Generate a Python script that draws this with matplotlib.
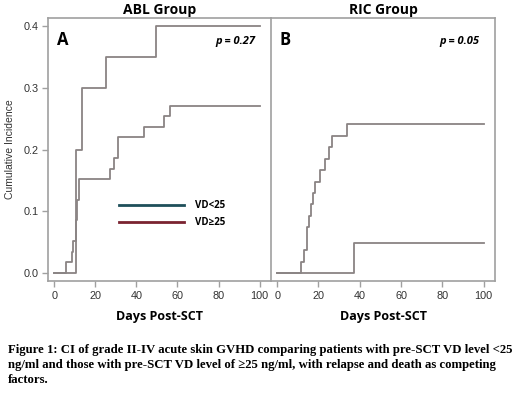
import matplotlib
matplotlib.use("Agg")
import matplotlib.pyplot as plt
from matplotlib.lines import Line2D

# ---- data ----
a_low_days = [0, 6.0, 8.6, 9.4, 10.5, 11.0, 11.3, 12.3, 27.2, 29.1, 31.2, 43.5, 53.4, 56.3, 100]
a_low_ci = [0, 0.017, 0.034, 0.051, 0.085, 0.102, 0.119, 0.153, 0.169, 0.186, 0.220, 0.237, 0.254, 0.271, 0.271]
a_high_days = [0, 10.5, 13.5, 25.0, 49.4, 100]
a_high_ci = [0, 0.20, 0.30, 0.35, 0.40, 0.40]

b_low_days = [0, 11.3, 13.2, 14.6, 15.6, 16.4, 17.5, 18.4, 20.8, 23.2, 25.1, 26.7, 33.7, 100]
b_low_ci = [0, 0.0185, 0.037, 0.074, 0.093, 0.111, 0.130, 0.148, 0.167, 0.185, 0.204, 0.222, 0.241, 0.241]
b_high_days = [0, 37.3, 100]
b_high_ci = [0, 0.048, 0.048]

x_ticks = [0, 20, 40, 60, 80, 100]
y_ticks = [0.0, 0.1, 0.2, 0.3, 0.4]
y_tick_labels = ["0.0", "0.1", "0.2", "0.3", "0.4"]
panel_titles = ["ABL Group", "RIC Group"]
panel_letters = ["A", "B"]
p_values = ["p = 0.27", "p = 0.05"]
legend_labels = ["VD<25", "VD\u226525"]
caption_lines = [
    "Figure 1: CI of grade II-IV acute skin GVHD comparing patients with pre-SCT VD level <25",
    "ng/ml and those with pre-SCT VD level of \u226525 ng/ml, with relapse and death as competing",
    "factors.",
]

curve_color = "#8a8484"
legend_colors = ["#1e4f5a", "#7a2330"]
spine_color = "#a0a0a0"

fig = plt.figure(figsize=(5.2, 3.95), dpi=100)
W, H = 520, 395
axA = fig.add_axes([48 / W, 1 - 281 / H, (271 - 48) / W, (281 - 18) / H])
axB = fig.add_axes([271 / W, 1 - 281 / H, (495 - 271) / W, (281 - 18) / H])

for ax in (axA, axB):
    ax.set_xlim(-3, 105.5)
    ax.set_ylim(-0.013, 0.413)
    ax.set_xticks(x_ticks)
    ax.set_xticklabels([str(t) for t in x_ticks], fontsize=7.8, color="#333333",
                       family="Liberation Sans")
    for s in ax.spines.values():
        s.set_color(spine_color)
        s.set_linewidth(1.2)
    ax.tick_params(axis="both", colors=spine_color, length=4, width=1, labelcolor="#333333", pad=3)
    ax.set_xlabel("Days Post-SCT", fontsize=9, fontweight="bold", family="Open Sans", labelpad=7)

axA.set_yticks(y_ticks)
axA.set_yticklabels(y_tick_labels, fontsize=7.8, family="Liberation Sans")
axA.set_ylabel("Cumulative Incidence", fontsize=7.5, family="Liberation Sans", color="#333333", labelpad=6)
axA.spines["right"].set_visible(False)
axB.set_yticks([])

axA.step(a_low_days, a_low_ci, where="post", color=curve_color, lw=1.3)
axA.step(a_high_days, a_high_ci, where="post", color=curve_color, lw=1.3)
axB.step(b_low_days, b_low_ci, where="post", color=curve_color, lw=1.3)
axB.step(b_high_days, b_high_ci, where="post", color=curve_color, lw=1.3)

for ax, title, letter, p in zip((axA, axB), panel_titles, panel_letters, p_values):
    ax.set_title(title, fontsize=10, fontweight="bold", family="Open Sans", pad=3)
    ax.text(0.04, 0.915, letter, transform=ax.transAxes, fontsize=12, fontweight="bold",
            family="Open Sans", va="center", ha="left")
    ax.text(0.93, 0.91, p, transform=ax.transAxes, fontsize=8, fontweight="bold",
            style="italic", family="Open Sans", va="center", ha="right")

# legend
handles = [Line2D([0], [0], color=c, lw=2) for c in legend_colors]
leg = axA.legend(handles, legend_labels, loc="upper left", bbox_to_anchor=(0.28, 0.34),
                 frameon=False, handlelength=6.7, labelspacing=0.6,
                 handletextpad=1.1, prop={"family": "Open Sans", "weight": "bold", "size": 7})

for i, line in enumerate(caption_lines):
    fig.text(8 / W, 1 - (350 + 15 * i) / H, line, fontsize=9.2, fontweight="bold",
             family="Liberation Serif", va="center", ha="left")

fig.savefig("out.png", dpi=100)
